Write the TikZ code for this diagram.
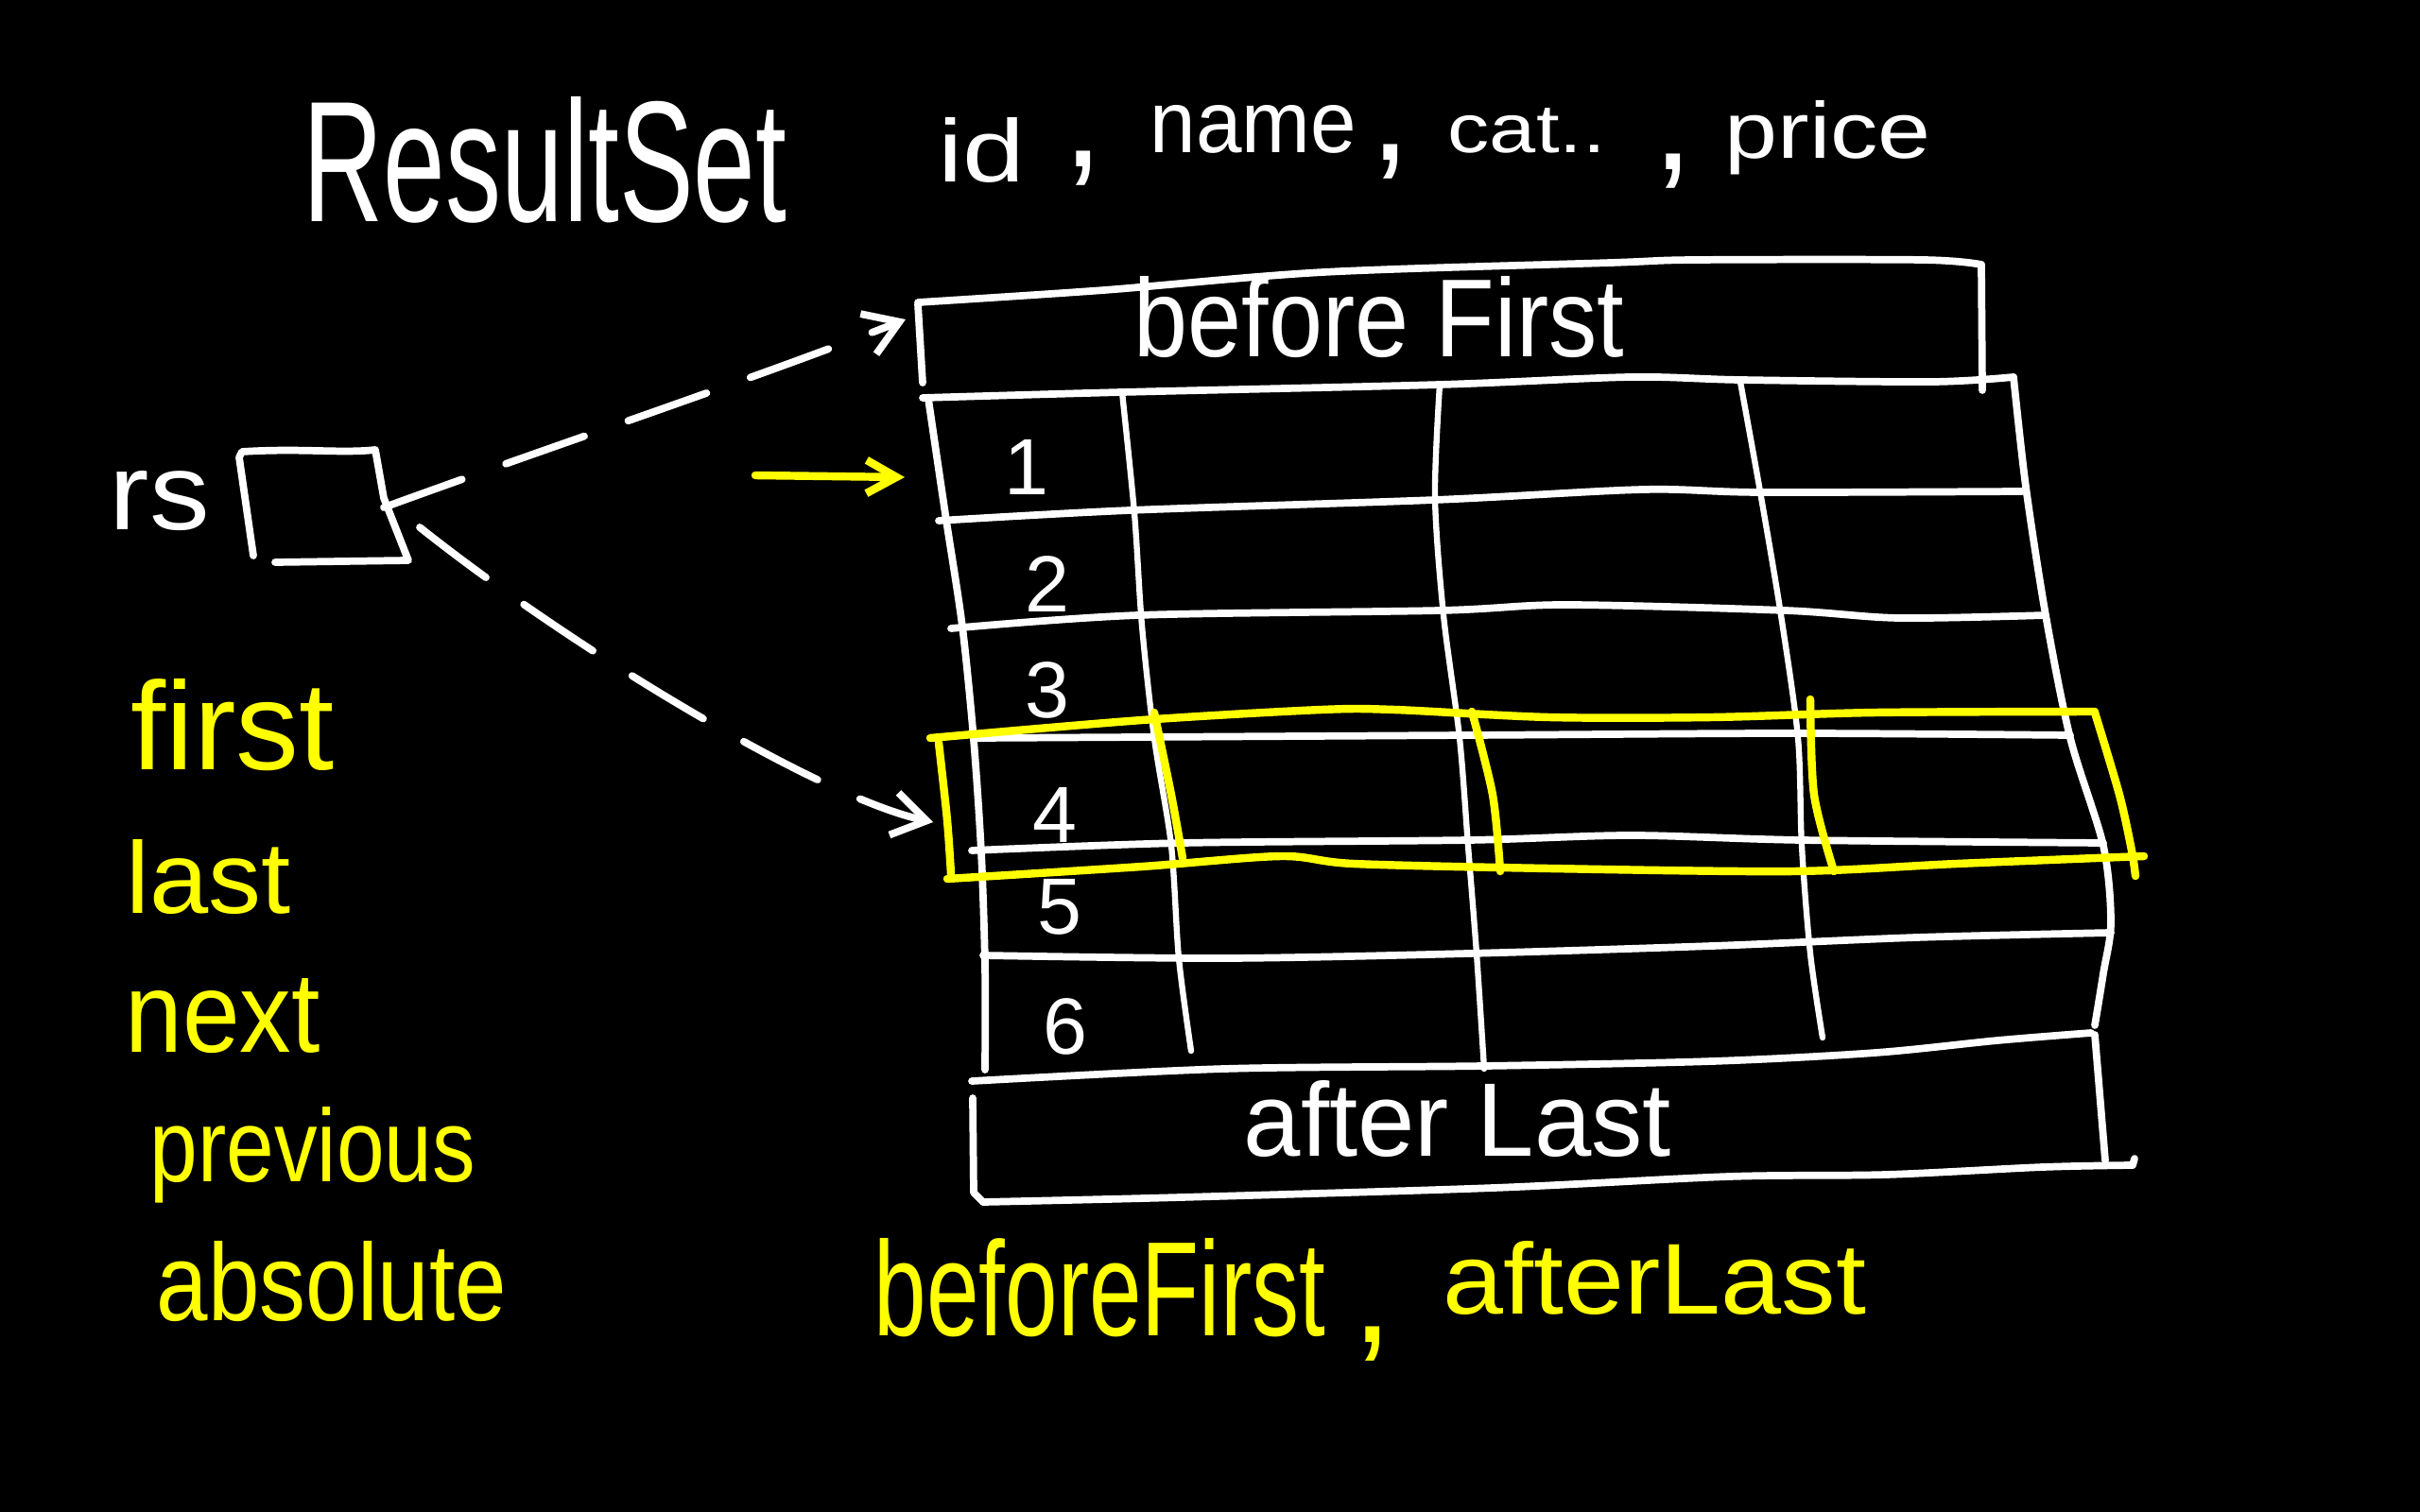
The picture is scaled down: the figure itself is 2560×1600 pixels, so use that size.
\documentclass[tikz,border=0pt]{standalone}
\usepackage{fontspec}
\setmainfont{Liberation Sans}
\usepackage{graphicx}
\usetikzlibrary{arrows.meta}
\definecolor{hy}{HTML}{FFFF00}
\newcommand{\hwtext}[3]{\resizebox{#1cm}{#2cm}{#3}}
\begin{document}
\begin{tikzpicture}[x=0.01cm,y=-0.01cm,
  ink/.style={white,line width=2.2pt,line cap=round,line join=round},
  thinink/.style={white,line width=1.8pt,line cap=round,line join=round},
  hl/.style={hy,line width=2.4pt,line cap=round,line join=round},
  wtxt/.style={text=white,inner sep=0pt,anchor=base west},
  ytxt/.style={text=hy,inner sep=0pt,anchor=base west},
  digit/.style={text=white,inner sep=0pt,anchor=center,font=\fontsize{24pt}{24pt}\selectfont},
  wcomma/.style={text=white,inner sep=0pt,anchor=base,font=\fontsize{44pt}{44pt}\selectfont},
  ycomma/.style={text=hy,inner sep=0pt,anchor=base,font=\fontsize{44pt}{44pt}\selectfont},
  dasharrow/.style={white,line width=2.2pt,line cap=round,dash pattern=on 25pt off 14pt,
    -{Straight Barb[length=10pt,width=13pt]}},
  yarrow/.style={hy,line width=2.4pt,line cap=round,-{Straight Barb[length=9pt,width=10pt]}},
]
\useasboundingbox (0,0) rectangle (2560,1600);
\fill[black] (0,0) rectangle (2560,1600);

% ---- title ----
\node[wtxt] (title) at (320,235) {\hwtext{5.11}{1.32}{ResultSet}};
\node[wtxt] (colid) at (992,193) {\hwtext{0.92}{0.68}{id}};
\node[wcomma] (cm1) at (1146,177) {,};
\node[wtxt] (colname) at (1216,162) {\hwtext{2.18}{0.50}{name}};
\node[wcomma] (cm2) at (1471,170) {,};
\node[wtxt] (colcat) at (1531,162) {\hwtext{1.67}{0.47}{cat..}};
\node[wcomma] (cm3) at (1770,180) {,};
\node[wtxt] (colprice) at (1824,168) {\hwtext{2.18}{0.61}{price}};

% ---- rs box ----
\node[wtxt] (rs) at (115,560) {\hwtext{1.06}{0.62}{rs}};
\draw[ink] (268,588) -- (253,484) -- (256,478) .. controls (320,474) and (360,480) .. (397,476)
  -- (406,527) -- (432,593) -- (291,595);
\coordinate (rsA) at (406,537);
\coordinate (rsB) at (444,558);

% ---- beforeFirst box ----
\draw[ink] plot[smooth] coordinates {(971,320) (1168,307) (1400,288) (1704,278) (1793,275) (2034,275) (2096,280)};
\draw[ink] (971,322) -- (976,405);
\draw[ink] (2096,280) -- (2097,413);
\node[wtxt] (bf) at (1199,377) {\hwtext{5.18}{0.85}{before First}};
\coordinate (bfIn) at (958,338);

% ---- table ----
\draw[ink] plot[smooth] coordinates {(976,421) (1187,415) (1523,407) (1725,399) (1841,402) (2044,404) (2130,399)};
\draw[ink] plot[smooth] coordinates {(993,551) (1195,540) (1518,529) (1738,518) (1863,521) (2139,520)};
\draw[ink] plot[smooth] coordinates {(1006,665) (1204,651) (1523,646) (1656,640) (1889,646) (2009,654) (2164,651)};
\draw[ink] plot[smooth] coordinates {(1032,781) (1553,778) (1897,776) (2190,778)};
\draw[ink] plot[smooth] coordinates {(1028,900) (1251,892) (1553,889) (1725,884) (1906,889) (2225,892)};
\draw[ink] plot[smooth] coordinates {(1040,1011) (1295,1014) (1553,1009) (1811,1001) (2027,992) (2233,987)};
\draw[ink] plot[smooth] coordinates {(1028,1144) (1295,1131) (1570,1128) (1811,1123) (1984,1114) (2113,1101) (2212,1093)};
\draw[ink] plot[smooth] coordinates {(982,422) (1000,544) (1018,663) (1030,783) (1038,902) (1042,1022) (1042,1132)};
\draw[ink] plot[smooth] coordinates {(2130,399) (2143,515) (2164,651) (2190,781) (2225,895) (2233,976) (2225,1030) (2216,1085)};
\draw[thinink] plot[smooth] coordinates {(1187,415) (1200,543) (1208,662) (1221,781) (1239,895) (1247,1014) (1260,1112)};
\draw[thinink] plot[smooth] coordinates {(1523,407) (1518,526) (1527,651) (1544,781) (1553,895) (1562,1009) (1570,1131)};
\draw[thinink] plot[smooth] coordinates {(1841,404) (1863,526) (1884,651) (1902,781) (1906,895) (1915,1009) (1928,1098)};
\coordinate (r4In) at (987,870);

% row numbers
\node[digit] (n1) at (1086,494) {1};
\node[digit] (n2) at (1108,618) {2};
\node[digit] (n3) at (1108,730) {3};
\node[digit] (n4) at (1116,862) {4};
\node[digit] (n5) at (1121,960) {5};
\node[digit] (n6) at (1127,1086) {6};

% ---- afterLast box ----
\draw[ink] (1029,1162) -- (1030,1262) -- (1040,1272);
\draw[ink] plot[smooth] coordinates {(1040,1272) (1249,1267) (1580,1257) (1829,1245) (1995,1243) (2161,1235) (2256,1233)};
\draw[ink] (2256,1233) -- (2258,1226);
\draw[ink] (2216,1095) -- (2227,1228);
\node[wtxt] (al) at (1315,1223) {\hwtext{4.52}{0.80}{after Last}};

% ---- yellow highlight of row 4 ----
\draw[hl] plot[smooth] coordinates {(984,781) (1208,762) (1398,751) (1475,751) (1639,759) (1811,759) (1984,754) (2216,753)};
\draw[hl] plot[smooth] coordinates {(1002,930) (1208,917) (1355,906) (1432,914) (1639,919) (1897,922) (2070,914) (2268,906)};
\draw[hl] plot[smooth] coordinates {(993,786) (1002,868) (1006,925)};
\draw[hl] plot[smooth] coordinates {(2216,754) (2242,841) (2255,900) (2259,927)};
\draw[hl] plot[smooth] coordinates {(1221,754) (1239,841) (1251,908)};
\draw[hl] plot[smooth] coordinates {(1557,753) (1579,841) (1587,922)};
\draw[hl] plot[smooth] coordinates {(1915,740) (1919,841) (1940,922)};

% ---- connectors ----
\draw[dasharrow] (rsA) .. controls (590,470) and (800,400) .. (bfIn);
\draw[dasharrow] (rsB) .. controls (610,690) and (870,845) .. (r4In);
\coordinate (yS) at (799,503);
\coordinate (yE) at (957,505);
\draw[yarrow] (yS) -- (yE);

% ---- yellow method names ----
\node[ytxt] (mfirst) at (138,814) {\hwtext{2.15}{0.96}{first}};
\node[ytxt] (mlast) at (133,966) {\hwtext{1.74}{0.78}{last}};
\node[ytxt] (mnext) at (132,1113) {\hwtext{2.06}{0.78}{next}};
\node[ytxt] (mprev) at (158,1250) {\hwtext{3.44}{0.79}{previous}};
\node[ytxt] (mabs) at (165,1397) {\hwtext{3.70}{0.84}{absolute}};

\node[ytxt] (mbf) at (924,1413) {\hwtext{4.77}{1.03}{beforeFirst}};
\node[ycomma] (cm4) at (1452,1420) {,};
\node[ytxt] (mal) at (1526,1390) {\hwtext{4.47}{0.77}{afterLast}};
\end{tikzpicture}
\end{document}
